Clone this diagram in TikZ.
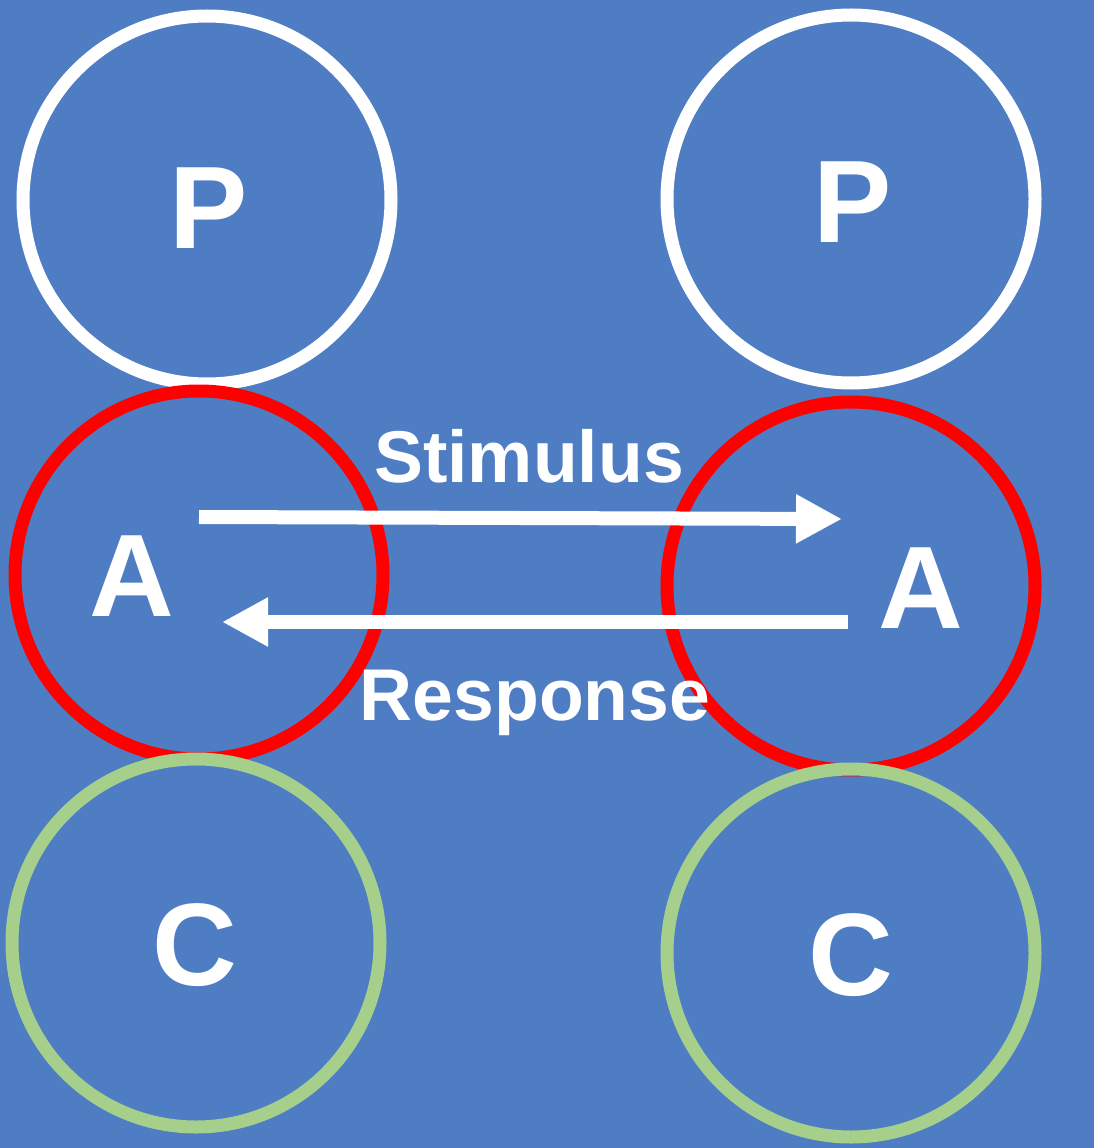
\documentclass[tikz,border=0pt]{standalone}
\usepackage{fontspec}
\setmainfont{Liberation Sans}
\usetikzlibrary{arrows.meta}
\definecolor{slideblue}{RGB}{79,125,196}
\definecolor{childgreen}{RGB}{166,207,140}

\begin{document}
\begin{tikzpicture}[x=0.75pt,y=0.75pt,yscale=-1,xscale=1,
  ego/.style={circle,draw,line width=9.75pt,minimum size=276pt,inner sep=0pt},
  letter/.style={white,anchor=base,font=\fontsize{88}{100}\selectfont\bfseries},
  caption/.style={white,anchor=base,font=\fontsize{55}{66}\selectfont\bfseries},
  transaction/.style={white,line width=10.5pt,-{Triangle[length=34.5pt,width=34.5pt]}}]
%set diagram left start at 0, and has height of 1148
\fill[slideblue] (0,0) rectangle (1094,1148);
\useasboundingbox (0,0) rectangle (1094,1148);

%Shape: Circle -- left Parent
\node[ego,draw=white] (lp) at (207,200) {};
%Shape: Circle -- left Adult
\node[ego,draw=red] (la) at (199,575) {};
%Shape: Circle -- left Child
\node[ego,draw=childgreen] (lc) at (196,943) {};
%Shape: Circle -- right Parent
\node[ego,draw=white] (rp) at (851,199) {};
%Shape: Circle -- right Adult
\node[ego,draw=red] (ra) at (851,586) {};
%Shape: Circle -- right Child
\node[ego,draw=childgreen] (rc) at (851,953) {};

%Letters
\node[letter] (lptext) at (209,248) {P};
\node[letter] (latext) at (132,616) {A};
\node[letter] (lctext) at (195,985) {C};
\node[letter] (rptext) at (853,243) {P};
\node[letter] (ratext) at (921,628) {A};
\node[letter] (rctext) at (851,995) {C};

%Straight Lines -- transactions
\coordinate (stimfrom) at (199,517);
\coordinate (stimto) at (842,519);
\coordinate (respfrom) at (848,622);
\coordinate (respto) at (222,622);
\draw[transaction] (stimfrom) -- (stimto);
\draw[transaction] (respfrom) -- (respto);

\node[caption] (stimulus) at (529,482) {Stimulus};
\node[caption] (response) at (535,720) {Response};
\end{tikzpicture}
\end{document}
